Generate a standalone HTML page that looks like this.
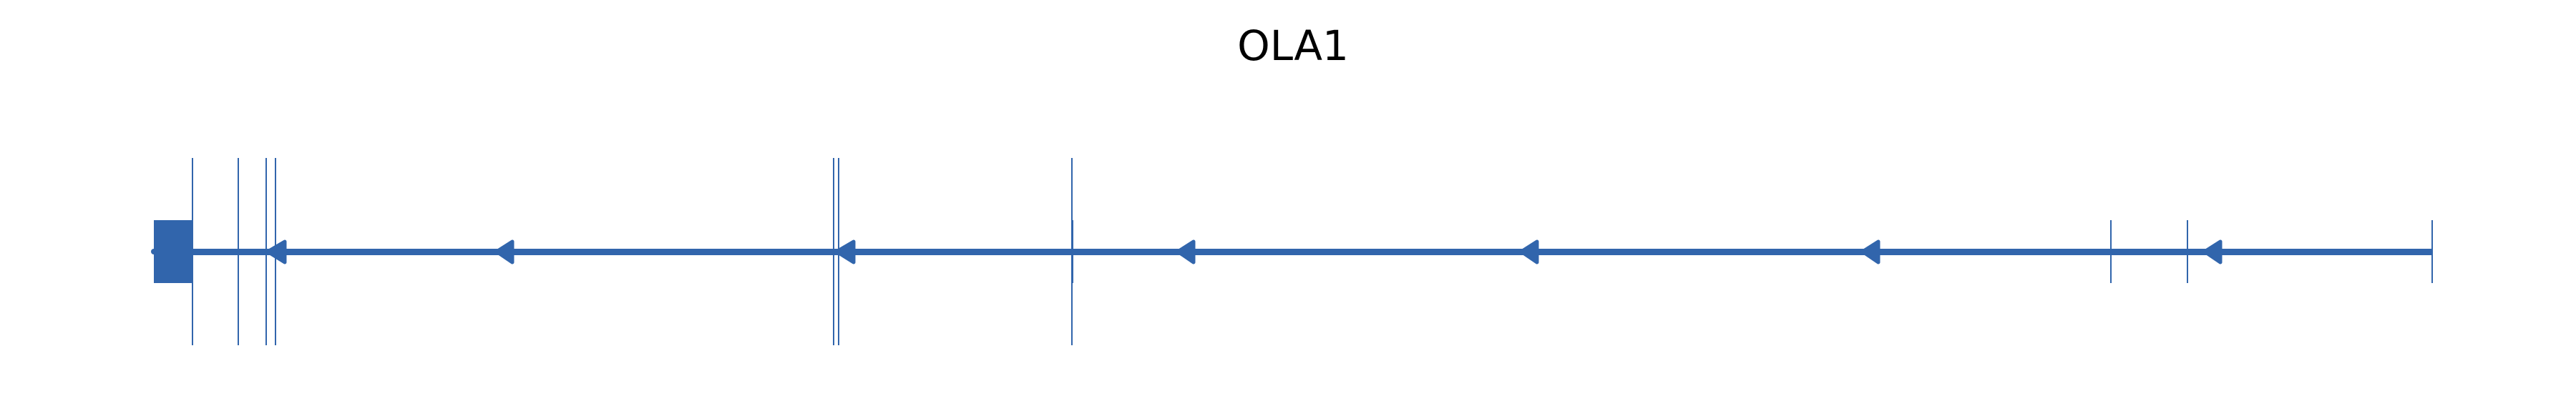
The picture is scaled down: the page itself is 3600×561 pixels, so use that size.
<!DOCTYPE html>
<html><head><meta charset="utf-8"><style>html,body{margin:0;padding:0;background:#fff;width:3600px;height:561px;overflow:hidden}</style></head>
<body>
<svg width="3600" height="561" xmlns="http://www.w3.org/2000/svg">
<text x="1807" y="84" text-anchor="middle" font-family="DejaVu Sans, Liberation Sans, sans-serif" font-size="58" fill="#000">OLA1</text>
<g fill="#3165ac" stroke="none">
<rect x="215" y="308" width="55" height="88"/>
<rect x="215" y="348" width="3184" height="9"/>
<circle cx="215" cy="352" r="4"/>
<rect x="268" y="221" width="2" height="262"/>
<rect x="332" y="221" width="2" height="262"/>
<rect x="371" y="221" width="2" height="262"/>
<rect x="384" y="221" width="2" height="262"/>
<rect x="1164" y="221" width="2" height="262"/>
<rect x="1171" y="221" width="2" height="262"/>
<rect x="1497" y="221" width="2" height="262"/>
<rect x="1497" y="308" width="3" height="88"/>
<rect x="2949" y="308" width="2" height="88"/>
<rect x="3056" y="308" width="2" height="88"/>
<rect x="3398" y="308" width="2" height="88"/>
</g>
<g fill="#3165ac" stroke="#3165ac" stroke-width="5" stroke-linejoin="round">
<polygon points="374,352 398,338 398,367"/>
<polygon points="694,352 716,338 716,367"/>
<polygon points="1169,352 1193,338 1193,367"/>
<polygon points="1646,352 1668,338 1668,367"/>
<polygon points="2126,352 2148,338 2148,367"/>
<polygon points="2603,352 2625,338 2625,367"/>
<polygon points="3081,352 3103,338 3103,367"/>
</g>
</svg>
</body></html>
